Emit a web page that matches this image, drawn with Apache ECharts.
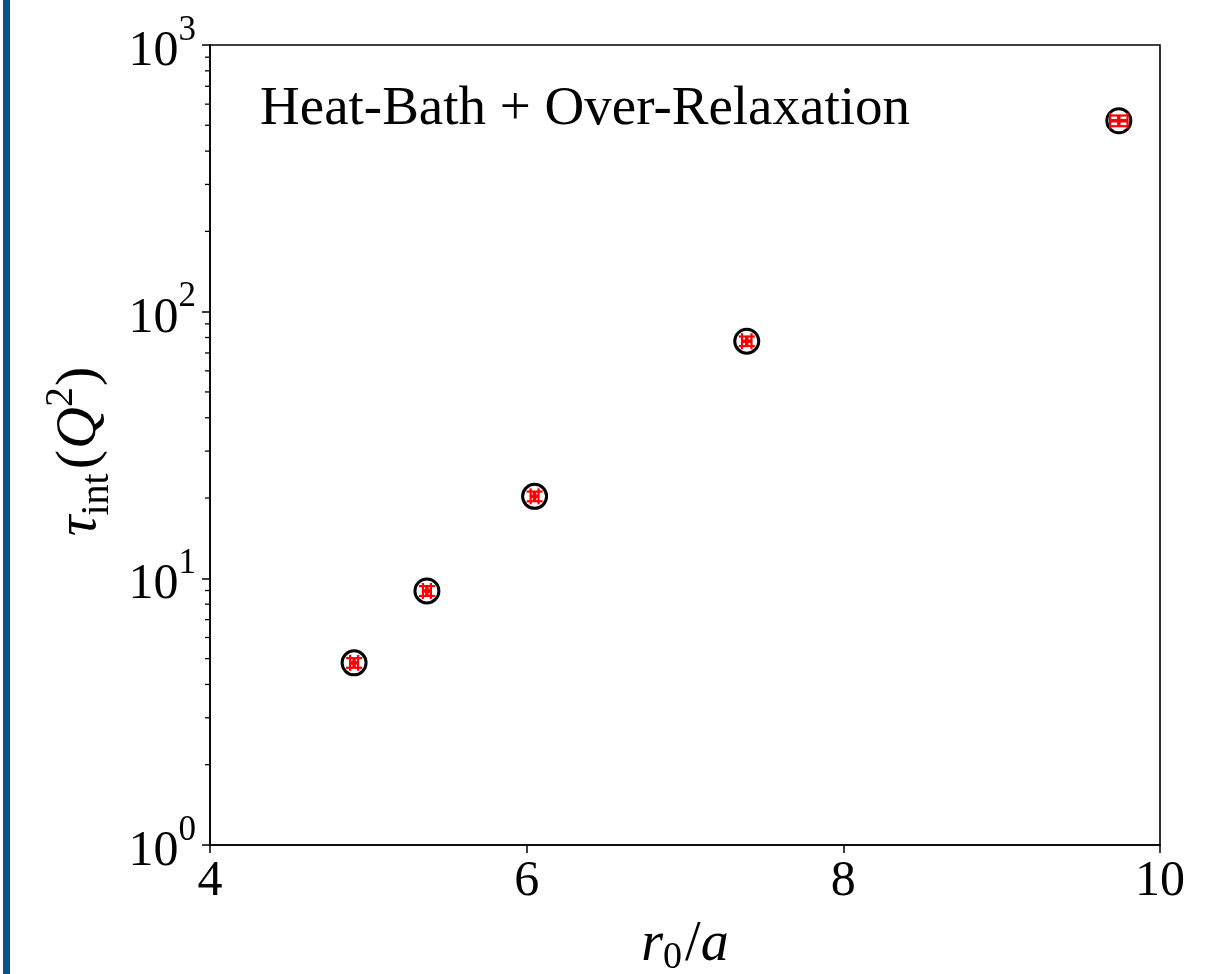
<!DOCTYPE html>
<html>
<head>
<meta charset="utf-8">
<script src="https://cdn.jsdelivr.net/npm/echarts@6/dist/echarts.min.js"></script>
<style>
html,body{margin:0;padding:0;background:#fff;}
#main{width:1223px;height:974px;}
</style>
</head>
<body>
<div id="main"></div>
<script>
// ---- data ----
const r0 = [4.91, 5.37, 6.05, 7.39, 9.74];
const tau = [4.82, 8.97, 20.3, 77.5, 520];
const r0Err = [0.025, 0.025, 0.025, 0.03, 0.055];
const tauErr = [0.2, 0.38, 0.85, 3.2, 24];
const xTicks = [4, 6, 8, 10];
const yDecades = [1, 10, 100, 1000];
const yMinor = [2,3,4,5,6,7,8,9,20,30,40,50,60,70,80,90,200,300,400,500,600,700,800,900];
const annotation = 'Heat-Bath + Over-Relaxation';

const FONT = 'Liberation Serif';
const chart = echarts.init(document.getElementById('main'), null, {renderer: 'canvas'});

const errData = r0.map((x, i) => [x, tau[i], r0Err[i], tauErr[i]]);
const ptData = r0.map((x, i) => [x, tau[i]]);

const option = {
  animation: false,
  backgroundColor: '#fff',
  grid: {left: 210, right: 63, top: 45, bottom: 129, outerBoundsMode: 'none', containLabel: false,
         show: true, borderColor: '#000', borderWidth: 1.6, backgroundColor: 'transparent'},
  xAxis: {
    type: 'value', min: 4, max: 10, interval: 2,
    axisLine: {show: true, onZero: false, lineStyle: {color: '#000', width: 1.6}},
    axisTick: {show: true, inside: false, length: 8, lineStyle: {color: '#000', width: 1.5}},
    splitLine: {show: false},
    axisLabel: {color: '#000', fontFamily: FONT, fontSize: 50, margin: 12},
    name: '{i|r}{sub|0}{n|/}{i|a}',
    nameLocation: 'middle', nameGap: 72,
    nameTextStyle: {
      rich: {
        i: {fontFamily: FONT, fontStyle: 'italic', fontSize: 56, color: '#000', lineHeight: 60, verticalAlign: 'top'},
        n: {fontFamily: FONT, fontSize: 56, color: '#000', lineHeight: 60, verticalAlign: 'top'},
        sub: {fontFamily: FONT, fontSize: 38, color: '#000', lineHeight: 38, verticalAlign: 'bottom', padding: [0, 3, 0, 0]}
      }
    }
  },
  yAxis: {
    type: 'log', logBase: 10, min: 1, max: 1000,
    axisLine: {show: true, lineStyle: {color: '#000', width: 1.6}},
    axisTick: {show: true, inside: false, length: 8, lineStyle: {color: '#000', width: 1.5}},
    minorTick: {show: false},
    splitLine: {show: false},
    axisLabel: {
      margin: 14,
      formatter: function (v) { return '{b|10}{s|' + Math.round(Math.log10(v)) + '}'; },
      rich: {
        b: {fontFamily: FONT, fontSize: 50, color: '#000', lineHeight: 64, verticalAlign: 'bottom'},
        s: {fontFamily: FONT, fontSize: 35, color: '#000', lineHeight: 64, verticalAlign: 'top'}
      }
    },
    name: '{i|τ}{sub|int}{n|(}{i|Q}{sup|2}{n|)}',
    nameLocation: 'middle', nameGap: 82, nameRotate: 90,
    nameTextStyle: {
      padding: [0, 12, 0, 0],
      rich: {
        i: {fontFamily: FONT, fontStyle: 'italic', fontSize: 58, color: '#000', lineHeight: 76},
        n: {fontFamily: FONT, fontSize: 58, color: '#000', lineHeight: 76, padding: [0, 1, 0, 1]},
        sub: {fontFamily: FONT, fontSize: 40, color: '#000', lineHeight: 76, verticalAlign: 'bottom', padding: [0, 3, 0, 0]},
        sup: {fontFamily: FONT, fontSize: 40, color: '#000', lineHeight: 76, verticalAlign: 'top'}
      }
    }
  },
  graphic: [
    {type: 'rect', left: 3, top: 0, shape: {width: 7, height: 974}, style: {fill: '#0b4f8c'}, z: 10},
    {type: 'text', left: 260, top: 82, style: {text: annotation, fontFamily: FONT, fontSize: 55, fill: '#000'}, z: 10}
  ],
  series: [
    {
      type: 'custom', name: 'minor', clip: false, silent: true, z: 3,
      data: yMinor.map(v => [xTicks[0], v]),
      renderItem: function (params, api) {
        const p = api.coord([api.value(0), api.value(1)]);
        return {type: 'line', shape: {x1: p[0] - 5, y1: p[1], x2: p[0], y2: p[1]}, style: {stroke: '#000', lineWidth: 1.3}};
      }
    },
    {
      type: 'scatter', name: 'pts', data: ptData, symbol: 'circle', symbolSize: 24, z: 4,
      itemStyle: {color: '#fff', borderColor: '#000', borderWidth: 3, opacity: 1}
    },
    {
      type: 'custom', name: 'err', z: 5, clip: false,
      data: errData,
      renderItem: function (params, api) {
        const x = api.value(0), y = api.value(1), ex = api.value(2), ey = api.value(3);
        const c = api.coord([x, y]);
        const l = api.coord([x - ex, y]), r = api.coord([x + ex, y]);
        const t = api.coord([x, y + ey]), b = api.coord([x, y - ey]);
        const h = 8;
        const st = {stroke: '#ff0000', lineWidth: 2.2};
        return {
          type: 'group', children: [
            {type: 'line', shape: {x1: l[0], y1: c[1], x2: r[0], y2: c[1]}, style: {stroke: '#ff0000', lineWidth: 3.5}},
            {type: 'line', shape: {x1: c[0], y1: t[1], x2: c[0], y2: b[1]}, style: {stroke: '#ff0000', lineWidth: 3.5}},
            {type: 'line', shape: {x1: l[0], y1: c[1] - h, x2: l[0], y2: c[1] + h}, style: st},
            {type: 'line', shape: {x1: r[0], y1: c[1] - h, x2: r[0], y2: c[1] + h}, style: st},
            {type: 'line', shape: {x1: c[0] - h, y1: t[1], x2: c[0] + h, y2: t[1]}, style: st},
            {type: 'line', shape: {x1: c[0] - h, y1: b[1], x2: c[0] + h, y2: b[1]}, style: st}
          ]
        };
      }
    }
  ]
};
chart.setOption(option);
</script>
</body>
</html>
